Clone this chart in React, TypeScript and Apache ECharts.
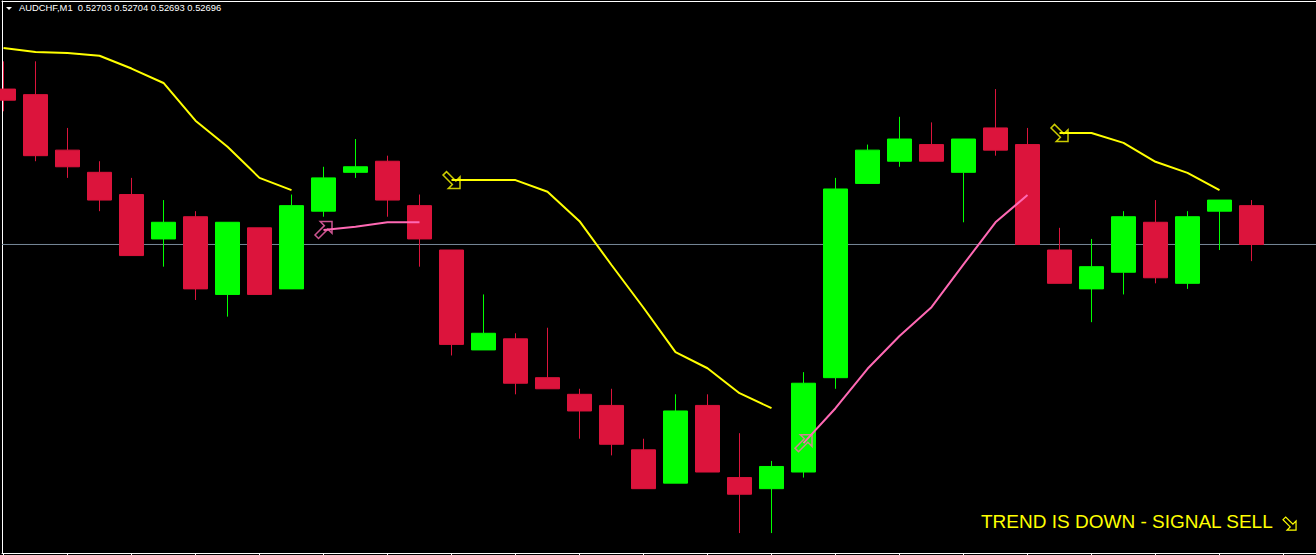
import React, { useEffect, useRef } from "react";
import * as echarts from "echarts";

// ---- Data ----
const symbolName = "AUDCHF,M1";

const opens = [
  0.52724, 0.52723, 0.52713, 0.52709, 0.52705, 0.52697, 0.52701, 0.52687, 0.52699, 0.52688,
  0.52702, 0.52709, 0.52711, 0.52703, 0.52695, 0.52677, 0.52679, 0.52672, 0.52669, 0.52667,
  0.52659, 0.52653, 0.52667, 0.52654, 0.52652, 0.52655, 0.52672, 0.52707, 0.52711, 0.52714,
  0.52709, 0.52717, 0.52714, 0.52695, 0.52688, 0.52691, 0.527, 0.52689, 0.52702, 0.52703,
];
const closes = [
  0.52722, 0.52712, 0.5271, 0.52704, 0.52694, 0.527, 0.52688, 0.527, 0.52687, 0.52703,
  0.52708, 0.5271, 0.52704, 0.52697, 0.52678, 0.5268, 0.52671, 0.5267, 0.52666, 0.5266,
  0.52652, 0.52666, 0.52655, 0.52651, 0.52656, 0.52671, 0.52706, 0.52713, 0.52715, 0.52711,
  0.52715, 0.52713, 0.52696, 0.52689, 0.52692, 0.52701, 0.5269, 0.52701, 0.52704, 0.52696,
];
const lows = [
  0.5272, 0.52711, 0.52708, 0.52702, 0.52694, 0.52692, 0.52686, 0.52683, 0.52687, 0.52688,
  0.52701, 0.52708, 0.52701, 0.52692, 0.52676, 0.52677, 0.52669, 0.5267, 0.52661, 0.52658,
  0.52652, 0.52653, 0.52655, 0.52644, 0.52644, 0.52654, 0.5267, 0.52707, 0.5271, 0.52711,
  0.527, 0.52712, 0.52696, 0.52689, 0.52682, 0.52687, 0.52689, 0.52688, 0.52695, 0.52693,
];
const highs = [
  0.52729, 0.52729, 0.52717, 0.52711, 0.52708, 0.52704, 0.52702, 0.527, 0.52699, 0.52705,
  0.5271, 0.52715, 0.52712, 0.52705, 0.52695, 0.52687, 0.5268, 0.52681, 0.5267, 0.5267,
  0.52661, 0.52669, 0.52669, 0.52662, 0.52657, 0.52673, 0.52708, 0.52714, 0.52719, 0.52718,
  0.52715, 0.52724, 0.52717, 0.52699, 0.52697, 0.52702, 0.52704, 0.52702, 0.52704, 0.52704,
];

// down-trend (yellow) and up-trend (pink) indicator lines, null = no value
const sellTrend = [
  0.527314, 0.527307, 0.527305, 0.5273, 0.527277, 0.527251, 0.527183, 0.527136, 0.52708, 0.527058,
  null, null, null, null,
  0.527076, 0.527076, 0.527076, 0.527055, 0.527002, 0.526923, 0.526846, 0.526766, 0.526737, 0.526692, 0.526665,
  null, null, null, null, null, null, null, null,
  0.527161, 0.527161, 0.527143, 0.527109, 0.527089, 0.527058,
  null,
];
const buyTrend = [
  null, null, null, null, null, null, null, null, null, null,
  0.526986, 0.526992, 0.527, 0.527,
  null, null, null, null, null, null, null, null, null, null, null,
  0.526602, 0.526665, 0.526736, 0.526795, 0.526847, 0.526924, 0.527, 0.527049,
  null, null, null, null, null, null, null,
];
const sellSignals = [14, 33];
const buySignals = [10, 25];
const bottomTicks = [0, 2, 4, 6, 8, 10, 12, 14, 16, 18, 20, 22, 24, 26, 28, 30, 32, 34, 36, 38, 40];
const signalText = "TREND IS DOWN - SIGNAL SELL";

// axis ranges
const xMin = -0.046875;
const xMax = 41.015625;
const priceMin = 0.5264041;
const priceMax = 0.5273987;

const lastIdx = opens.length - 1;
const bidPrice = closes[lastIdx];
const headerText = `${symbolName}  ${opens[lastIdx].toFixed(5)} ${highs[lastIdx].toFixed(5)} ${lows[lastIdx].toFixed(5)} ${closes[lastIdx].toFixed(5)}`;

const ARROW_DOWN_RIGHT = "path://M16,16 L6,16 L9.5,12.5 L1.5,4.5 L4.5,1.5 L12.5,9.5 L16,6 Z";
const ARROW_UP_RIGHT = "path://M16,1.5 L6,1.5 L9.5,5 L1.5,13 L4.5,16 L12.5,8 L16,11.5 Z";

function arrowPoints(x0: number, y0: number, s: number): number[][] {
  const pts = [
    [16, 16], [6, 16], [9.5, 12.5], [1.5, 4.5], [4.5, 1.5], [12.5, 9.5], [16, 6],
  ];
  return pts.map(([x, y]) => [x0 + (x - 1.5) * s, y0 + (y - 1.5) * s]);
}

export default function App() {
  const ref = useRef<HTMLDivElement>(null);

  useEffect(() => {
    if (!ref.current) return;
    const chart = echarts.init(ref.current, null, { renderer: "svg" });

    const candleData = opens.map((o, i) => [i, o, closes[i], lows[i], highs[i]]);
    const sellLine = sellTrend.map((v, i) => [i, v]);
    const buyLine = buyTrend.map((v, i) => [i, v]);

    chart.setOption({
      animation: false,
      backgroundColor: "#000000",
      grid: { left: 2, right: 0, top: 1, bottom: 2, containLabel: false },
      xAxis: [
        {
          type: "value",
          min: xMin,
          max: xMax,
          position: "bottom",
          axisLine: { show: true, onZero: false, lineStyle: { color: "#ffffff", width: 1 } },
          axisTick: {
            show: true,
            inside: false,
            length: 3,
            customValues: bottomTicks,
            lineStyle: { color: "#ffffff", width: 1 },
          },
          axisLabel: { show: false },
          splitLine: { show: false },
        },
        {
          type: "value",
          min: xMin,
          max: xMax,
          position: "top",
          axisLine: { show: true, onZero: false, lineStyle: { color: "#ffffff", width: 1 } },
          axisTick: { show: false },
          axisLabel: { show: false },
          splitLine: { show: false },
        },
      ],
      yAxis: {
        type: "value",
        min: priceMin,
        max: priceMax,
        position: "left",
        axisLine: { show: true, onZero: false, lineStyle: { color: "#ffffff", width: 1 } },
        axisTick: { show: false },
        axisLabel: { show: false },
        splitLine: { show: false },
      },
      series: [
        {
          type: "line",
          silent: true,
          z: 1,
          data: [[xMin, bidPrice], [xMax, bidPrice]],
          showSymbol: false,
          lineStyle: { color: "#778899", width: 1 },
        },
        {
          type: "candlestick",
          silent: true,
          z: 2,
          barWidth: 24,
          data: candleData,
          itemStyle: {
            color: "#00ff00",
            color0: "#dc143c",
            borderColor: "#00ff00",
            borderColor0: "#dc143c",
            borderWidth: 1,
          },
        },
        {
          type: "line",
          silent: true,
          z: 3,
          data: sellLine,
          showSymbol: false,
          connectNulls: false,
          lineStyle: { color: "#ffff00", width: 2 },
        },
        {
          type: "line",
          silent: true,
          z: 3,
          data: buyLine,
          showSymbol: false,
          connectNulls: false,
          lineStyle: { color: "#ff69b4", width: 2 },
        },
        {
          type: "scatter",
          silent: true,
          z: 4,
          symbol: ARROW_DOWN_RIGHT,
          symbolSize: 17,
          data: sellSignals.map((i) => [i, sellTrend[i]]),
          itemStyle: { color: "rgba(0,0,0,0)", borderColor: "#ffff00", borderWidth: 1.5 },
        },
        {
          type: "scatter",
          silent: true,
          z: 4,
          symbol: ARROW_UP_RIGHT,
          symbolSize: 17,
          data: buySignals.map((i) => [i, buyTrend[i]]),
          itemStyle: { color: "rgba(0,0,0,0)", borderColor: "#ff69b4", borderWidth: 1.5 },
        },
      ],
      graphic: [
        {
          type: "polygon",
          silent: true,
          shape: { points: [[6, 7], [12, 7], [9, 10]] },
          style: { fill: "#ffffff" },
        },
        {
          type: "text",
          silent: true,
          x: 19,
          y: 7.7,
          style: {
            text: headerText,
            fill: "#ffffff",
            font: '9.4px "Liberation Sans"',
            verticalAlign: "middle",
          },
        },
        {
          type: "text",
          silent: true,
          x: 981,
          y: 521.7,
          style: {
            text: signalText,
            fill: "#ffff00",
            font: '19px "Liberation Sans"',
            verticalAlign: "middle",
          },
        },
        {
          type: "polygon",
          silent: true,
          shape: { points: arrowPoints(1283, 517, 0.9) },
          style: { fill: "none", stroke: "#ffff00", lineWidth: 1.2 },
        },
      ],
    });

    return () => {
      chart.dispose();
    };
  }, []);

  return (
    <div
      ref={ref}
      style={{
        position: "fixed",
        left: 0,
        top: 0,
        width: 1316,
        height: 555,
        background: "#000000",
      }}
    />
  );
}
